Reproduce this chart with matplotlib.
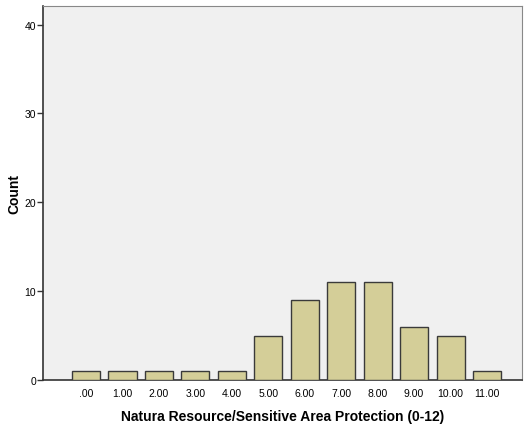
import matplotlib
matplotlib.use("Agg")
import matplotlib.pyplot as plt

categories = [".00", "1.00", "2.00", "3.00", "4.00", "5.00", "6.00", "7.00", "8.00", "9.00", "10.00", "11.00"]
counts = [1, 1, 1, 1, 1, 5, 9, 11, 11, 6, 5, 1]
yticks = [0, 10, 20, 30, 40]

plt.rcParams['font.family'] = ['Liberation Sans', 'DejaVu Sans']
fig = plt.figure(figsize=(5.26, 4.27), dpi=100)
ax = fig.add_axes([43/526, 46/427, 479/526, 374/427])
ax.set_facecolor('#f0f0f0')
x = list(range(len(categories)))
ax.bar(x, counts, width=0.77, color='#d4ce98', edgecolor='#3a3a3a', linewidth=1.0, zorder=3)
ax.set_xlim(-1.18, 11.96)
ax.set_ylim(0, 42.1)
ax.set_xticks(x)
ax.set_xticklabels(categories, fontsize=7.5)
ax.tick_params(axis='x', length=0, pad=6)
ax.set_yticks(yticks)
ax.set_yticklabels([str(t) for t in yticks], fontsize=7.5)
ax.tick_params(axis='y', length=4, width=1, color='#333333', pad=1)
for s in ['top', 'right']:
    ax.spines[s].set_color('#888888')
for s in ['left', 'bottom']:
    ax.spines[s].set_color('#333333')
    ax.spines[s].set_linewidth(1.2)
ax.set_xlabel('Natura Resource/Sensitive Area Protection (0-12)', fontsize=10, fontweight='bold', labelpad=8)
ax.set_ylabel('Count', fontsize=10, fontweight='bold')
ax.yaxis.set_label_coords(-0.046, 0.5)
fig.savefig('out.png', dpi=100)
